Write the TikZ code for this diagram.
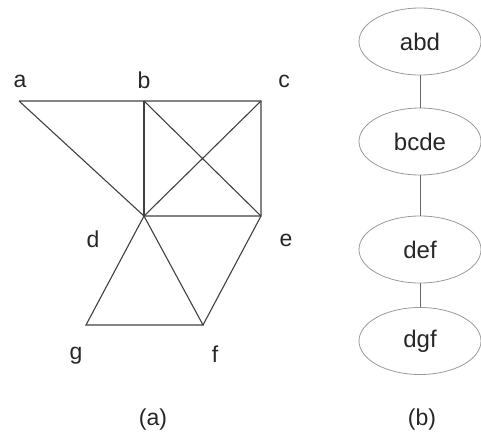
\documentclass[tikz,border=0pt]{standalone}
\usepackage{fontspec}
\setmainfont{Liberation Sans}
\usepackage{tikz}
\usetikzlibrary{shapes.geometric, positioning}

\begin{document}
\begin{tikzpicture}[
  x=1pt, y=-1pt,
  vlabel/.style={font=\fontsize{23}{26}\selectfont, text=black!85, inner sep=0pt},
  edge/.style={draw=black!75, line width=1.1pt},
  clique/.style={ellipse, draw=black!40, line width=0.8pt, minimum width=122pt, minimum height=67pt, inner sep=0pt, font=\fontsize{24}{26}\selectfont, text=black!85},
  link/.style={draw=black!60, line width=1pt}
]
  \useasboundingbox (0,0) rectangle (481,434);

  % (a) the graph
  \coordinate (a) at (19,101);
  \coordinate (b) at (144,101);
  \coordinate (c) at (261,101);
  \coordinate (d) at (144,216);
  \coordinate (e) at (261,216);
  \coordinate (g) at (86,325);
  \coordinate (f) at (203,325);

  \node (la) [vlabel] at (20,81) {a};
  \node (lb) [vlabel] at (144,80) {b};
  \node (lc) [vlabel] at (284,81) {c};
  \node (ld) [vlabel] at (93,239) {d};
  \node (le) [vlabel] at (286,240) {e};
  \node (lg) [vlabel] at (76,356) {g};
  \node (lf) [vlabel] at (215,354) {f};

  \draw [edge] (a) -- (b) -- (c) -- (e) -- (d) -- (a);
  \draw [edge] (b) -- (d);
  \draw [edge] (b) -- (e);
  \draw [edge] (c) -- (d);
  \draw [edge] (d) -- (g) -- (f) -- (d);
  \draw [edge] (e) -- (f);

  % (b) the cliques
  \node (abd) [clique] at (420,41.5) {abd};
  \node (bcde) [clique] at (420,141.5) {bcde};
  \node (def) [clique] at (420,249.5) {def};
  \node (dgf) [clique] at (420,341) {dgf};

  \draw [link] (abd) -- (bcde);
  \draw [link] (bcde) -- (def);
  \draw [link] (def) -- (dgf);

  % captions
  \node (capa) [vlabel] at (153,420) {(a)};
  \node (capb) [vlabel] at (422,420) {(b)};

\end{tikzpicture}
\end{document}
